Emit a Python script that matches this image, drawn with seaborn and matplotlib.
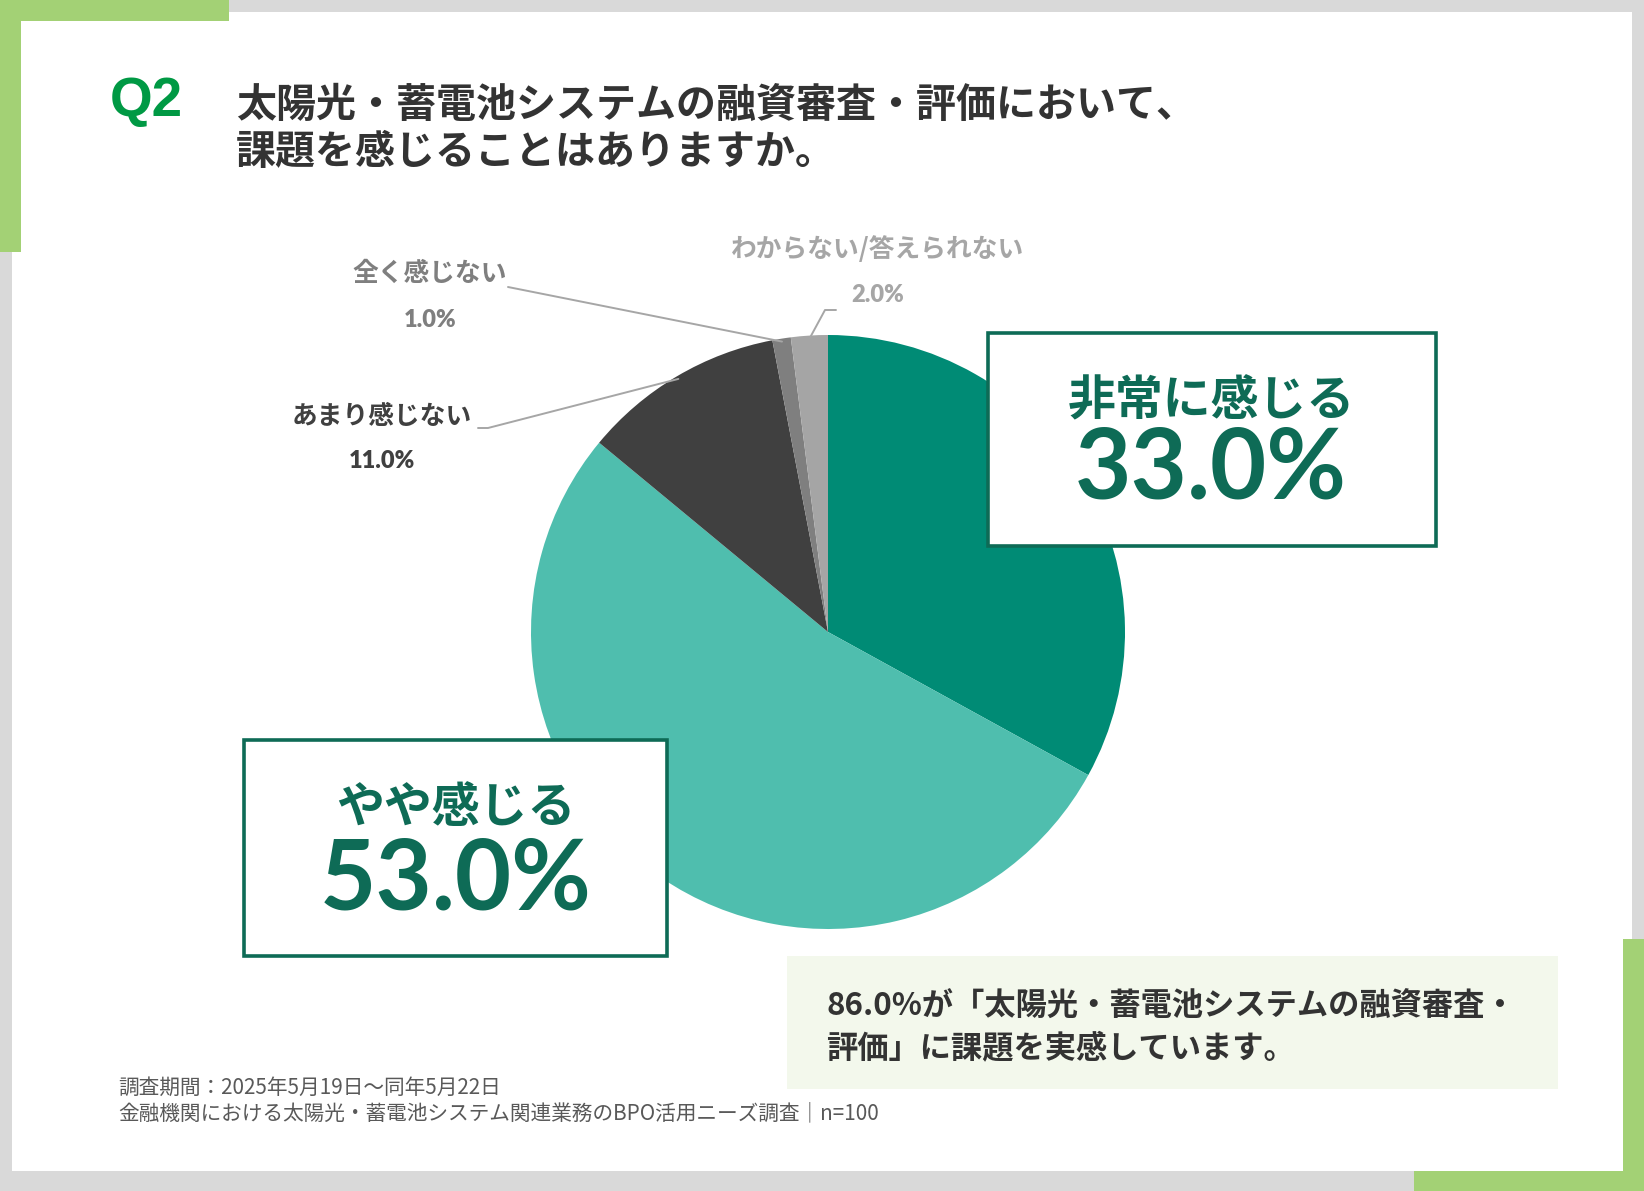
import numpy as np
import matplotlib
matplotlib.use("Agg")
import matplotlib.pyplot as plt
import matplotlib.patches as mpatches
import seaborn as sns

sns.set_theme(style="white")
plt.rcParams['font.family'] = ['Noto Sans CJK JP', 'DejaVu Sans']

# data
categories = ['非常に感じる', 'やや感じる', 'あまり感じない', '全く感じない', 'わからない/答えられない']
shares = [33.0, 53.0, 11.0, 1.0, 2.0]
slice_colors = ['#008B75', '#4FBEAE', '#404040', '#7F7F7F', '#A5A5A5']

title_lines = ['太陽光・蓄電池システムの融資審査・評価において、', '課題を感じることはありますか。']
note_lines = ['86.0%が「太陽光・蓄電池システムの融資審査・', '評価」に課題を実感しています。']
footer_lines = ['調査期間：2025年5月19日～同年5月22日',
                '金融機関における太陽光・蓄電池システム関連業務のBPO活用ニーズ調査｜n=100']

W, H = 1644, 1191
fig = plt.figure(figsize=(W / 100, H / 100), dpi=100)
fig.patch.set_facecolor('#D9D9D9')
ax = fig.add_axes([0, 0, 1, 1])
ax.set_xlim(0, W)
ax.set_ylim(0, H)
ax.set_aspect('equal')
ax.axis('off')


def Y(y):
    # top-down pixel rows to axes y
    return H - y


def rect(x0, y0, x1, y1, **kw):
    ax.add_patch(mpatches.Rectangle((x0, Y(y1)), x1 - x0, y1 - y0, **kw))


# page frame
rect(12, 12, 1632, 1171, facecolor='white', edgecolor='none', zorder=0)
green = '#A3D175'
rect(0, 0, 229, 21, facecolor=green, edgecolor='none', zorder=1)
rect(0, 0, 21, 252, facecolor=green, edgecolor='none', zorder=1)
rect(1623, 939, 1644, 1191, facecolor=green, edgecolor='none', zorder=1)
rect(1414, 1171, 1644, 1191, facecolor=green, edgecolor='none', zorder=1)

# title
ax.text(110, Y(102), 'Q2', fontsize=39.5, fontweight='bold', color='#009944',
        family=['Liberation Sans', 'DejaVu Sans'], ha='left', va='center')
for i, line in enumerate(title_lines):
    ax.text(236, Y(105 + 48 * i), line, fontsize=28.8, fontweight='bold',
            color='#333333', ha='left', va='center')

# pie
cx, cy, r = 828, 632, 297
wedges, _ = ax.pie(shares, colors=slice_colors, startangle=90, counterclock=False,
                   center=(cx, Y(cy)), radius=r, frame=True,
                   wedgeprops=dict(linewidth=0))
ax.set_xlim(0, W)
ax.set_ylim(0, H)
ax.axis('off')


def edge_point(w, k=1.0):
    a = np.deg2rad((w.theta1 + w.theta2) / 2)
    return cx + k * r * np.cos(a), Y(cy) + k * r * np.sin(a)


# leader lines
lc = '#A6A6A6'
ex, ey = edge_point(wedges[2], 0.99)
ax.plot([478, 488, ex], [Y(428), Y(428), ey], color=lc, lw=1.4, zorder=3)
ex, ey = edge_point(wedges[3], 0.99)
ax.plot([508, ex], [Y(287), ey], color=lc, lw=1.4, zorder=3)
ex, ey = edge_point(wedges[4], 0.99)
ax.plot([ex, 825, 836], [ey, Y(310), Y(310)], color=lc, lw=1.4, zorder=3)

num_font = ['Lato', 'Noto Sans CJK JP', 'DejaVu Sans']

# small labels
small = [
    (2, 382, 417, 461, '#404040'),
    (3, 430, 273, 320, '#7F7F7F'),
    (4, 878, 250, 295, '#A6A6A6'),
]
for idx, x, yl, yp, col in small:
    ax.text(x, Y(yl), categories[idx], fontsize=18.5, fontweight='bold', color=col,
            ha='center', va='center')
    ax.text(x, Y(yp), f'{shares[idx]:.1f}%', fontsize=17, fontweight='heavy', color=col,
            family=num_font, ha='center', va='center')

# big label boxes
box_col = '#0E6B56'
big = [
    (0, (988, 333, 1436, 546), 1211, 401, 470),
    (1, (244, 740, 667, 956), 456, 808, 881),
]
for idx, (x0, y0, x1, y1), x, yl, yp in big:
    rect(x0, y0, x1, y1, facecolor='white', edgecolor=box_col, lw=2.6, zorder=4)
    ax.text(x, Y(yl), categories[idx], fontsize=34.5, fontweight='bold', color=box_col,
            ha='center', va='center', zorder=5)
    ax.text(x, Y(yp), f'{shares[idx]:.1f}%', fontsize=70, fontweight='bold', color=box_col,
            family=num_font, ha='center', va='center', zorder=5)

# note box
rect(787, 956, 1558, 1089, facecolor='#F3F8EC', edgecolor='none', zorder=2)
for i, line in enumerate(note_lines):
    ax.text(826, Y(1007 + 42 * i), line, fontsize=22.5, fontweight='bold',
            color='#333333', ha='left', va='center', zorder=3)

# footer
for i, line in enumerate(footer_lines):
    ax.text(118, Y(1088 + 25 * i), line, fontsize=14.9, color='#595959',
            ha='left', va='center', zorder=3)

fig.savefig('out.png', dpi=100, facecolor=fig.get_facecolor())
